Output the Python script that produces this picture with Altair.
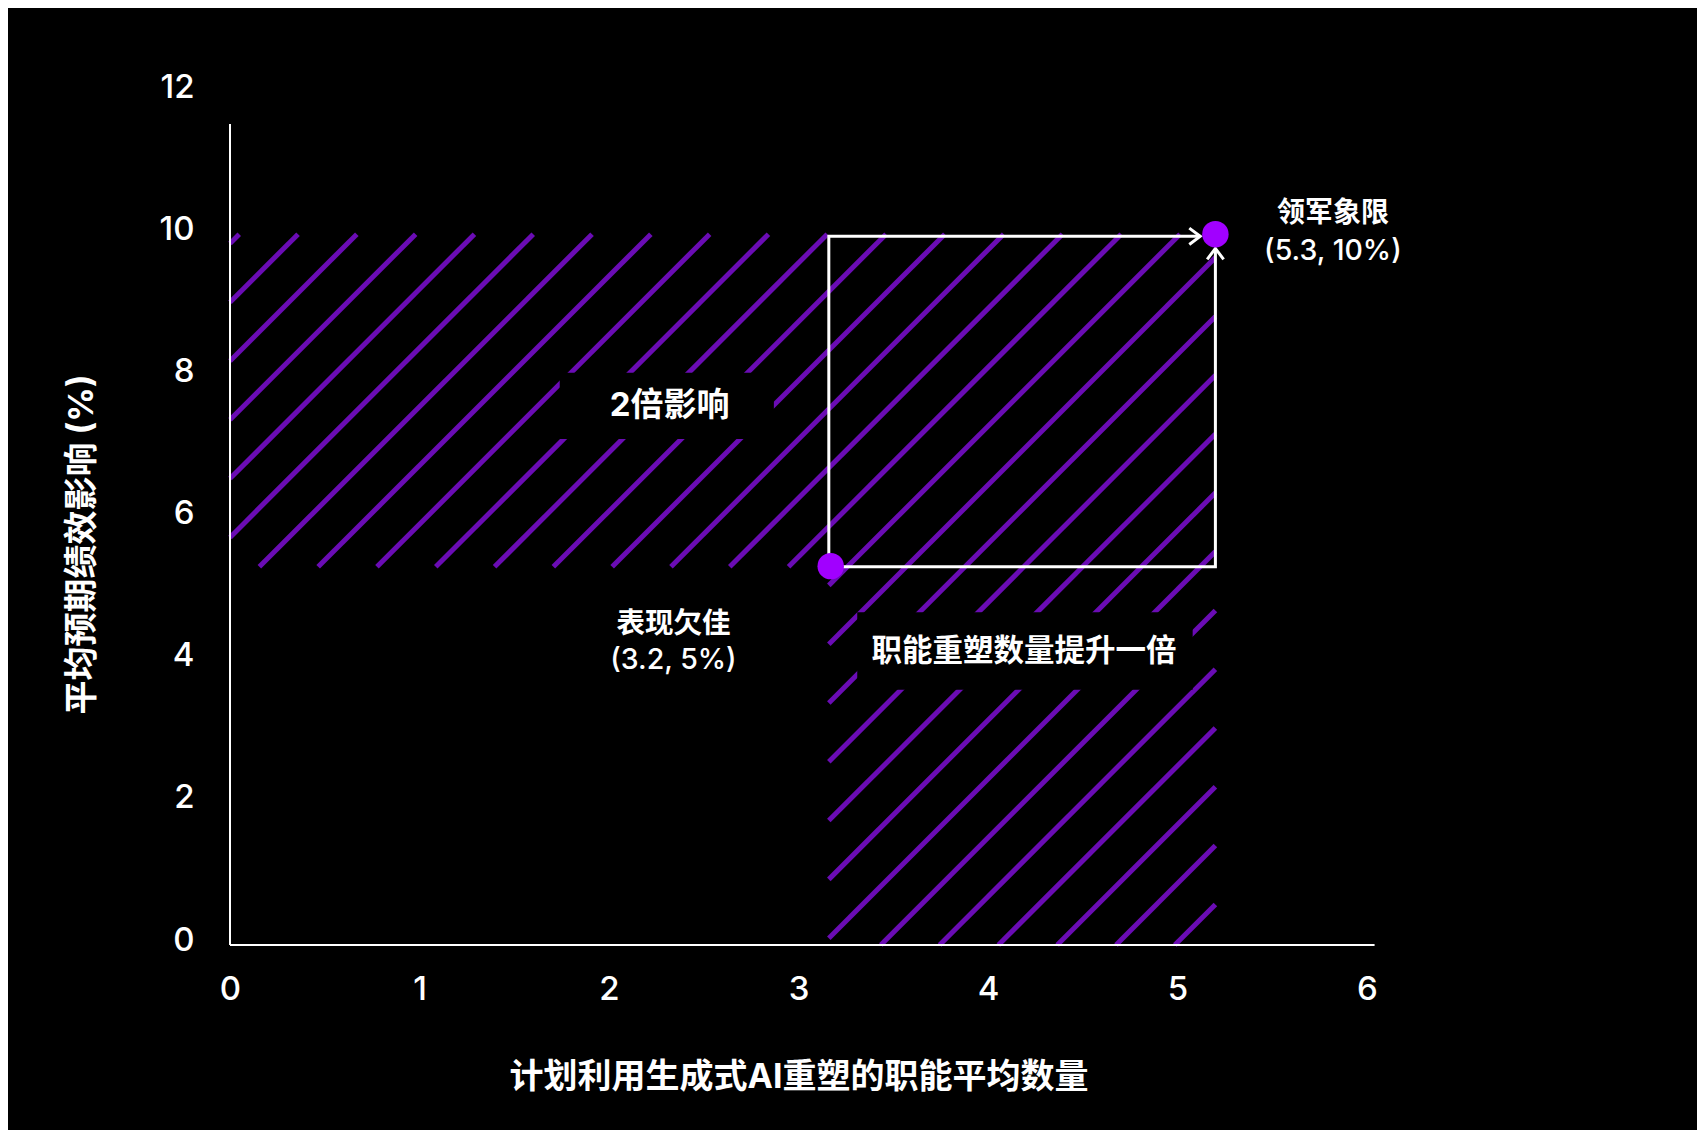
import altair as alt
import pandas as pd

# ---------------- data ----------------
x_ticks = [0, 1, 2, 3, 4, 5, 6]
y_ticks = [0, 2, 4, 6, 8, 10, 12]
x_axis_end = 6.04
y_axis_end = 11.55

# key points: 表现欠佳 and 领军象限
point_x = [3.17, 5.20]
point_y = [5.33, 10.0]

# arrow paths between the two points
path1_x = [3.16, 3.16, 5.12]
path1_y = [5.32, 9.97, 9.97]
path2_x = [3.16, 5.20, 5.20]
path2_y = [5.32, 5.32, 9.80]

# arrow tips
tip_right = (5.12, 9.97)
tip_up = (5.20, 9.80)

# hatched regions (x0, x1, y0, y1)
hatch_x0 = [0.0, 3.16]
hatch_x1 = [5.20, 5.20]
hatch_y0 = [5.32, 0.0]
hatch_y1 = [10.0, 5.32]

# black label backgrounds
box_x0 = [1.74, 3.31]
box_x1 = [2.87, 5.08]
box_y0 = [7.12, 3.59]
box_y1 = [8.05, 4.68]

# annotation texts
label_text = ["2倍影响", "表现欠佳", "职能重塑数量提升一倍", "领军象限"]
label_x = [2.32, 2.34, 4.19, 5.82]
label_y = [7.58, 4.51, 4.12, 10.28]
label_size = [33, 28.5, 30.5, 28]
sub_text = ["(3.2, 5%)", "(5.3, 10%)"]
sub_x = [2.34, 5.82]
sub_y = [4.01, 9.76]

x_title = "计划利用生成式AI重塑的职能平均数量"
y_title = "平均预期绩效影响 (%)"

# ---------------- layout ----------------
W, H = 1137, 853
FONT = "Inter, 'Noto Sans CJK SC', sans-serif"
HATCH = "#6A0CB4"
DOT = "#A100FF"

sx = W / 6.0
sy = H / 12.0
spacing = 58.8
phase = 4.0

segs = []
for x0, x1, y0, y1 in zip(hatch_x0, hatch_x1, hatch_y0, hatch_y1):
    gmin = sx * x0 - sy * y1
    gmax = sx * x1 - sy * y0
    k = int((gmin - phase) // spacing) - 1
    while True:
        g = phase + k * spacing
        k += 1
        if g > gmax:
            break
        xa = max(x0, (g + sy * y0) / sx)
        xb = min(x1, (g + sy * y1) / sx)
        if xb - xa <= 1e-6:
            continue
        segs.append({"x": xa, "y": (sx * xa - g) / sy,
                     "x2": xb, "y2": (sx * xb - g) / sy})
hatch_df = pd.DataFrame(segs)

xs = alt.Scale(domain=[0, 6], nice=False, zero=False)
ys = alt.Scale(domain=[0, 12], nice=False, zero=False)


def X(field="x"):
    return alt.X(f"{field}:Q", scale=xs,
                 axis=alt.Axis(values=x_ticks, title=x_title, format="d"))


def Y(field="y"):
    return alt.Y(f"{field}:Q", scale=ys,
                 axis=alt.Axis(values=y_ticks, title=y_title, format="d"))


hatch = alt.Chart(hatch_df).mark_rule(
    stroke=HATCH, strokeWidth=5, strokeCap="butt"
).encode(x=X(), y=Y(), x2="x2:Q", y2="y2:Q")

boxes_df = pd.DataFrame({"x": box_x0, "x2": box_x1, "y": box_y0, "y2": box_y1})
boxes = alt.Chart(boxes_df).mark_rect(color="black").encode(
    x=X(), y=Y(), x2="x2:Q", y2="y2:Q")

axes_df = pd.DataFrame({"x": [0, 0], "y": [0, 0],
                        "x2": [x_axis_end, 0], "y2": [0, y_axis_end]})
axes = alt.Chart(axes_df).mark_rule(color="white", strokeWidth=2).encode(
    x=X(), y=Y(), x2="x2:Q", y2="y2:Q")

paths_df = pd.DataFrame({
    "x": path1_x + path2_x,
    "y": path1_y + path2_y,
    "path": ["a"] * 3 + ["b"] * 3,
    "seq": [0, 1, 2, 0, 1, 2],
})
paths = alt.Chart(paths_df).mark_line(
    color="white", strokeWidth=3, strokeJoin="miter"
).encode(x=X(), y=Y(), detail="path:N", order="seq:Q")

arrow_r = alt.Chart(pd.DataFrame({"x": [tip_right[0]], "y": [tip_right[1]]})).mark_point(
    shape="M -1 -0.75 L 0 0 L -1 0.75", size=480, filled=False,
    stroke="white", strokeWidth=3, opacity=1
).encode(x=X(), y=Y())
arrow_u = alt.Chart(pd.DataFrame({"x": [tip_up[0]], "y": [tip_up[1]]})).mark_point(
    shape="M -0.75 1 L 0 0 L 0.75 1", size=480, filled=False,
    stroke="white", strokeWidth=3, opacity=1
).encode(x=X(), y=Y())

dots = alt.Chart(pd.DataFrame({"x": point_x, "y": point_y})).mark_circle(
    size=700, color=DOT, opacity=1
).encode(x=X(), y=Y())

labels_df = pd.DataFrame({"x": label_x, "y": label_y, "t": label_text, "s": label_size})
labels = alt.Chart(labels_df).mark_text(
    color="white", font=FONT, fontWeight="bold", align="center", baseline="middle"
).encode(x=X(), y=Y(), text="t:N", size=alt.Size("s:Q", scale=None, legend=None))

subs_df = pd.DataFrame({"x": sub_x, "y": sub_y, "t": sub_text})
subs = alt.Chart(subs_df).mark_text(
    color="white", font=FONT, fontWeight=500, fontSize=28.5,
    align="center", baseline="middle"
).encode(x=X(), y=Y(), text="t:N")

chart = alt.layer(
    hatch, boxes, axes, paths, arrow_r, arrow_u, dots, labels, subs
).properties(
    width=W, height=H,
    autosize=alt.AutoSizeParams(type="none"),
    padding={"left": 222, "top": 84, "right": 330, "bottom": 185},
    background="black",
).configure_view(
    stroke=None
).configure_axis(
    domain=False, grid=False, ticks=False, tickSize=0, labelFlush=False,
    labelColor="white", labelFont=FONT, labelFontSize=33, labelFontWeight=500,
    titleColor="white", titleFont=FONT, titleFontWeight="bold",
).configure_axisX(
    labelPadding=28, titlePadding=54, titleFontSize=34,
).configure_axisY(
    labelPadding=36, titlePadding=60, labelOffset=-5, titleFontSize=34, titleY=452,
)

chart.save("out.html", embed_options={"renderer": "svg", "actions": False})
